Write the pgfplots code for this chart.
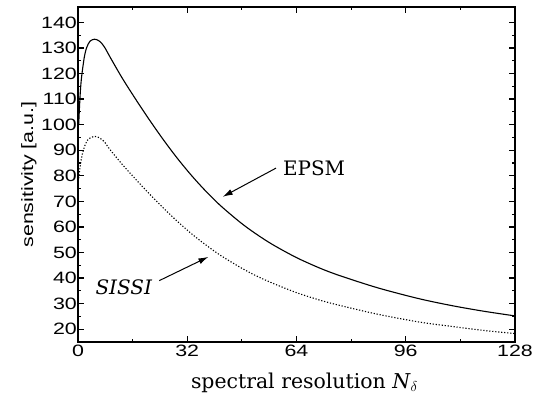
\documentclass[border=0pt]{standalone}
\usepackage{fontspec}
\usepackage{graphicx}
\setmainfont{DejaVu Serif}
\newfontfamily\tickfont[FakeStretch=1.3]{Liberation Sans}
\newfontfamily\labfont{Liberation Sans}
\usepackage{pgfplots}
\pgfplotsset{compat=1.18}
\usetikzlibrary{arrows.meta}
\begin{document}
\begin{tikzpicture}
\path[use as bounding box] (-78bp,-63bp) rectangle (473bp,342bp);
\begin{axis}[
  at={(0,0)}, anchor=south west,
  scale only axis, width=437bp, height=335bp,
  xmin=0, xmax=128, ymin=15, ymax=146,
  xtick={0,32,64,96,128}, minor xtick={16,48,80,112},
  ytick={20,30,...,140}, minor ytick={25,35,...,135},
  tick align=inside,
  major tick length=6bp, minor tick length=3.5bp,
  axis line style={line width=1.6bp, black},
  every tick/.style={line width=1.2bp, black},
  ticklabel style={font=\tickfont\fontsize{16.5}{16.5}\selectfont},
  /pgf/number format/assume math mode=true,
  yticklabel style={inner xsep=1bp},
  xlabel={spectral resolution \textit{N}$_{\delta}$},
  ylabel={\scalebox{1.3}[1]{\labfont\fontsize{16.5}{18}\selectfont sensitivity [a.u.]}},
  xlabel style={font=\fontsize{20.5}{22}\selectfont, xshift=8bp, yshift=-9bp},
]
\addplot[black, line width=1.1bp, smooth] coordinates {
(0.2,100) (0.6,111) (1,118) (1.8,126) (2.5,130) (3.5,132.6) (4.8,133.4) (6,132.9) (7,131.7) (8,129.8) (9.4,126.4) (13,118.1) (17.2,109.3) (21,101.7) (25,94.1) (29,87.0) (33,80.5) (37,74.6) (41.6,68.5) (47.5,61.8) (52,57.4) (57,53.1) (64,48.0) (71,43.8) (77,40.8) (88,36.1) (100,31.9) (110,29.1) (119,27.0) (128,25.2)
};
\addplot[black, line width=1.1bp, smooth, dash pattern=on 1.2bp off 1.8bp] coordinates {
(0.2,79) (0.9,86) (1.8,91) (3,94.3) (4.8,95.4) (6,95.0) (7,94.2) (8,92.8) (9.4,90.2) (13,84.4) (17.2,78.2) (21,72.8) (25,67.4) (29,62.3) (33,57.6) (37,53.4) (41.6,49.0) (47.5,44.2) (52,41.0) (57,38.0) (64,34.3) (71,31.3) (77,29.2) (88,25.8) (100,22.8) (110,21.0) (119,19.5) (128,18.3)
};
\node[anchor=west, inner sep=0pt, font=\fontsize{20}{22}\selectfont] at (axis cs:60,83) {EPSM};
\draw[-{Latex[length=10bp,width=6bp]}, line width=1bp] (axis cs:58,83) -- (axis cs:42.4,71.8);
\node[anchor=east, inner sep=0pt, font=\fontsize{20}{22}\selectfont\itshape] at (axis cs:21.7,36.5) {SISSI};
\draw[-{Latex[length=10bp,width=6bp]}, line width=1bp] (axis cs:23.8,39) -- (axis cs:38.2,48.3);
\end{axis}
\end{tikzpicture}
\end{document}
